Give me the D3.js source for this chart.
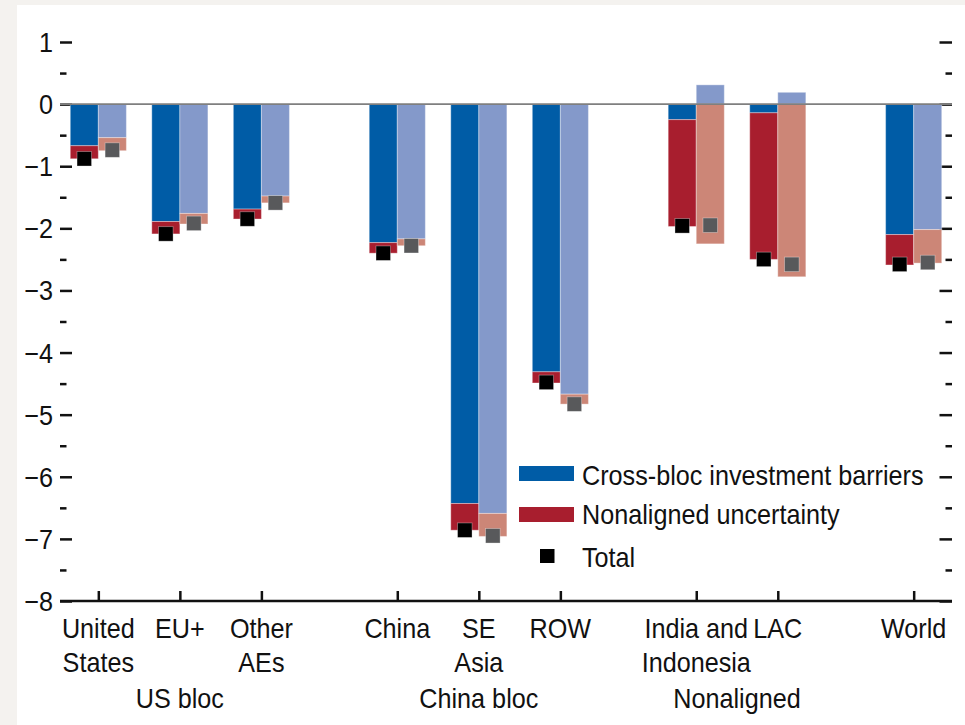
<!DOCTYPE html>
<html>
<head>
<meta charset="utf-8">
<script src="https://cdn.jsdelivr.net/npm/d3@7"></script>
<style>
    body { margin: 0; background: #f4f2ef; }
    svg text { font-family: "Liberation Sans", Arial, sans-serif; fill: #111; }
</style>
</head>
<body>
<div id="chart"></div>
<script>
// categories and the bloc each belongs to
const categories = ["United States", "EU+", "Other AEs", "China", "SE Asia", "ROW", "India and Indonesia", "LAC", "World"];
const labelLines = [["United", "States"], ["EU+"], ["Other", "AEs"], ["China"], ["SE", "Asia"], ["ROW"], ["India and", "Indonesia"], ["LAC"], ["World"]];
const groupOf = [0, 0, 0, 1, 1, 1, 2, 2, 3];
const groupLabels = ["US bloc", "China bloc", "Nonaligned", ""];

// first (dark) scenario
const barriersA    = [-0.67, -1.89, -1.69, -2.23, -6.43, -4.31, -0.25, -0.14, -2.10];
const uncertaintyA = [-0.21, -0.20, -0.16, -0.17, -0.43, -0.18, -1.72, -2.36, -0.49];
const totalA       = [-0.88, -2.09, -1.85, -2.40, -6.86, -4.48, -1.96, -2.50, -2.58];

// second (light) scenario
const barriersB    = [-0.54, -1.76, -1.48, -2.17, -6.59, -4.67, 0.31, 0.19, -2.02];
const uncertaintyB = [-0.21, -0.17, -0.11, -0.11, -0.37, -0.16, -2.25, -2.78, -0.54];
const totalB       = [-0.74, -1.92, -1.59, -2.28, -6.95, -4.83, -1.95, -2.58, -2.55];

const yTicks = [1, 0, -1, -2, -3, -4, -5, -6, -7, -8];
const legendLabels = ["Cross-bloc investment barriers", "Nonaligned uncertainty", "Total"];

const width = 965, height = 725;
const plotLeft = 60, plotRight = 952, plotTop = 42, plotBottom = 601;

const svg = d3.select("#chart").append("svg")
    .attr("width", width)
    .attr("height", height);

svg.append("rect").attr("width", width).attr("height", height).attr("fill", "#f4f2ef");
svg.append("rect").attr("x", 17).attr("y", 5).attr("width", width - 17).attr("height", height - 5).attr("fill", "#fff");

// slot index per category, with a gap of 2/3 slot between blocs
const slot = categories.map((c, i) => i + groupOf[i] * 2 / 3);

const x = d3.scaleLinear().domain([-0.47, 10.47]).range([plotLeft, plotRight]);
const y = d3.scaleLinear().domain([-8, 1]).range([plotBottom, plotTop]);
const bw = x(0.344) - x(0);

const font = 28;

// condensed look: regular sans squeezed horizontally
function label(g, tx, ty, anchor, txt) {
    return g.append("text")
        .attr("transform", "translate(" + tx + "," + ty + ") scale(0.9,1)")
        .attr("text-anchor", anchor)
        .style("font-size", font + "px")
        .text(txt);
}

// y axes (labels left, ticks inward on both sides)
let yMinor = d3.range(-7.5, 1, 1);

function tickAxis(axis, xpos) {
    svg.append("g").attr("transform", "translate(" + xpos + ",0)").call(axis)
        .call(g => g.select(".domain").remove())
        .call(g => g.selectAll(".tick line").attr("stroke", "#111").attr("stroke-width", 2.5));
}
tickAxis(d3.axisRight(y).tickValues(yTicks).tickSize(12).tickFormat(""), plotLeft);
tickAxis(d3.axisRight(y).tickValues(yMinor).tickSize(6.5).tickFormat(""), plotLeft);
tickAxis(d3.axisLeft(y).tickValues(yTicks).tickSize(12.5).tickFormat(""), plotRight);
tickAxis(d3.axisLeft(y).tickValues(yMinor).tickSize(6.5).tickFormat(""), plotRight);

let yLab = svg.append("g");
yTicks.forEach(d => label(yLab, 53, y(d) + 10, "end", d < 0 ? "\u2212" + Math.abs(d) : d));

// stacked bars
const colors = {
    A: ["#005ca6", "#a81e2e"],
    B: ["#8499ca", "#cc8677"]
};

function drawSeries(key, barriers, uncertainty, offset) {
    const rows = categories.map((c, i) => ({ i: i, barriers: barriers[i], uncertainty: uncertainty[i] }));
    const stacked = d3.stack()
        .keys(["barriers", "uncertainty"])
        .offset(d3.stackOffsetDiverging)(rows);

    svg.append("g").selectAll("g")
        .data(stacked)
        .enter().append("g")
        .attr("fill", (d, k) => colors[key][k])
        .selectAll("rect")
        .data(d => d)
        .enter().append("rect")
        .attr("x", d => x(slot[d.data.i]) + offset)
        .attr("width", bw)
        .attr("y", d => y(Math.max(d[0], d[1])))
        .attr("height", d => Math.abs(y(d[0]) - y(d[1])))
        .attr("stroke", "#fff")
        .attr("stroke-opacity", 0.35)
        .attr("stroke-width", 1);
}

drawSeries("A", barriersA, uncertaintyA, -bw);
drawSeries("B", barriersB, uncertaintyB, 0);

// zero line
svg.append("line")
    .attr("x1", plotLeft).attr("x2", plotRight)
    .attr("y1", y(0)).attr("y2", y(0))
    .attr("stroke", "#7f7f7f")
    .attr("stroke-width", 1.6);

// totals
const sq = 14.5;
function drawTotals(totals, offset, fill) {
    svg.append("g").selectAll("rect")
        .data(totals)
        .enter().append("rect")
        .attr("x", (d, i) => x(slot[i]) + offset - sq / 2)
        .attr("y", d => y(d) - sq / 2)
        .attr("width", sq)
        .attr("height", sq)
        .attr("fill", fill)
        .attr("stroke", "#fff")
        .attr("stroke-opacity", 0.4)
        .attr("stroke-width", 0.8);
}
drawTotals(totalA, -bw / 2, "#000");
drawTotals(totalB, bw / 2, "#58595b");

// bottom axis
let xAxis = d3.axisTop(x).tickValues(slot).tickSize(10).tickFormat("");
svg.append("g")
    .attr("transform", "translate(0," + plotBottom + ")")
    .call(xAxis)
    .call(g => g.select(".domain").remove())
    .call(g => g.selectAll(".tick line").attr("stroke", "#111").attr("stroke-width", 2.5));
svg.append("line")
    .attr("x1", plotLeft).attr("x2", plotRight)
    .attr("y1", plotBottom).attr("y2", plotBottom)
    .attr("stroke", "#111")
    .attr("stroke-width", 2.5);

let catLab = svg.append("g");
labelLines.forEach((lines, i) => {
    lines.forEach((t, k) => label(catLab, x(slot[i]), 638 + k * 34, "middle", t));
});

// bloc labels, centred under each bloc
let groupLab = svg.append("g");
groupLabels.forEach((g, gi) => {
    if (g === "") return;
    let s = slot.filter((v, i) => groupOf[i] === gi);
    label(groupLab, x((d3.min(s) + d3.max(s)) / 2), 708, "middle", g);
});

// legend
const legend = svg.append("g");
legend.append("rect").attr("x", 519).attr("y", 466).attr("width", 55).attr("height", 15).attr("fill", colors.A[0]);
legend.append("rect").attr("x", 519).attr("y", 507).attr("width", 55).attr("height", 15).attr("fill", colors.A[1]);
legend.append("rect").attr("x", 540).attr("y", 549).attr("width", 14.5).attr("height", 14).attr("fill", "#000");
legendLabels.forEach((t, i) => label(legend, 582, [485, 524, 567][i], "start", t));
</script>
</body>
</html>
